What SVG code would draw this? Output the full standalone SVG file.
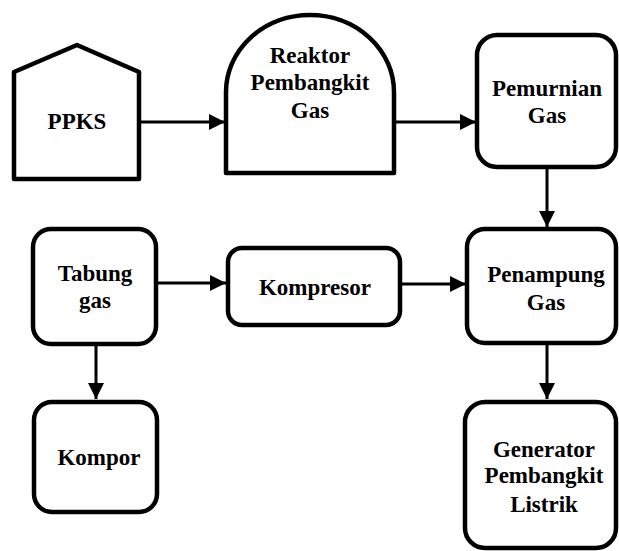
<svg xmlns="http://www.w3.org/2000/svg" width="619" height="551" viewBox="0 0 619 551">
<style>
.box{fill:#fff;stroke:#000;stroke-width:4.5;stroke-linejoin:round}
.t{font-family:'Liberation Serif','Times New Roman',serif;font-weight:700;font-size:23px;text-anchor:middle;fill:#000}
.c{stroke:#000;stroke-width:3;fill:none}
</style>
<defs>
<marker id="ah" viewBox="0 0 10 10" refX="10" refY="5" markerWidth="5.5" markerHeight="5.5" markerUnits="strokeWidth" orient="auto">
<path d="M0,0 L10,5 L0,10 Z" fill="#000"/>
</marker>
</defs>
<g id="connectors">
<line class="c" x1="139" y1="122" x2="225" y2="122" marker-end="url(#ah)"/>
<line class="c" x1="394" y1="122" x2="476" y2="122" marker-end="url(#ah)"/>
<line class="c" x1="547" y1="167" x2="547" y2="227" marker-end="url(#ah)"/>
<line class="c" x1="156" y1="283" x2="226" y2="283" marker-end="url(#ah)"/>
<line class="c" x1="400" y1="284" x2="466" y2="284" marker-end="url(#ah)"/>
<line class="c" x1="96" y1="344" x2="96" y2="399" marker-end="url(#ah)"/>
<line class="c" x1="547" y1="343" x2="547" y2="399" marker-end="url(#ah)"/>
</g>
<g id="ppks">
<path class="box" d="M14,72 L77,45 L139,72 L139,179 L14,179 Z"/>
<text class="t" x="77" y="129">PPKS</text>
</g>
<g id="reaktor">
<path class="box" d="M226,173 L226,92 A84,77 0 0 1 394,92 L394,173 Z"/>
<text class="t" x="310" y="63">Reaktor</text>
<text class="t" x="310" y="90">Pembangkit</text>
<text class="t" x="310" y="118">Gas</text>
</g>
<g id="pemurnian">
<rect class="box" x="477" y="35" width="139" height="132" rx="20"/>
<text class="t" x="547" y="96">Pemurnian</text>
<text class="t" x="547" y="123">Gas</text>
</g>
<g id="penampung">
<rect class="box" x="467" y="229" width="149" height="114" rx="18"/>
<text class="t" x="546" y="282">Penampung</text>
<text class="t" x="546" y="310">Gas</text>
</g>
<g id="tabung">
<rect class="box" x="33" y="229" width="123" height="115" rx="18"/>
<text class="t" x="95" y="281">Tabung</text>
<text class="t" x="95" y="308">gas</text>
</g>
<g id="kompresor">
<rect class="box" x="228" y="248" width="172" height="77" rx="14"/>
<text class="t" x="315" y="295">Kompresor</text>
</g>
<g id="kompor">
<rect class="box" x="34" y="402" width="123" height="110" rx="18"/>
<text class="t" x="99" y="465">Kompor</text>
</g>
<g id="generator">
<rect class="box" x="465" y="402" width="151" height="146" rx="20"/>
<text class="t" x="544" y="457">Generator</text>
<text class="t" x="544" y="483">Pembangkit</text>
<text class="t" x="544" y="512">Listrik</text>
</g>
</svg>
